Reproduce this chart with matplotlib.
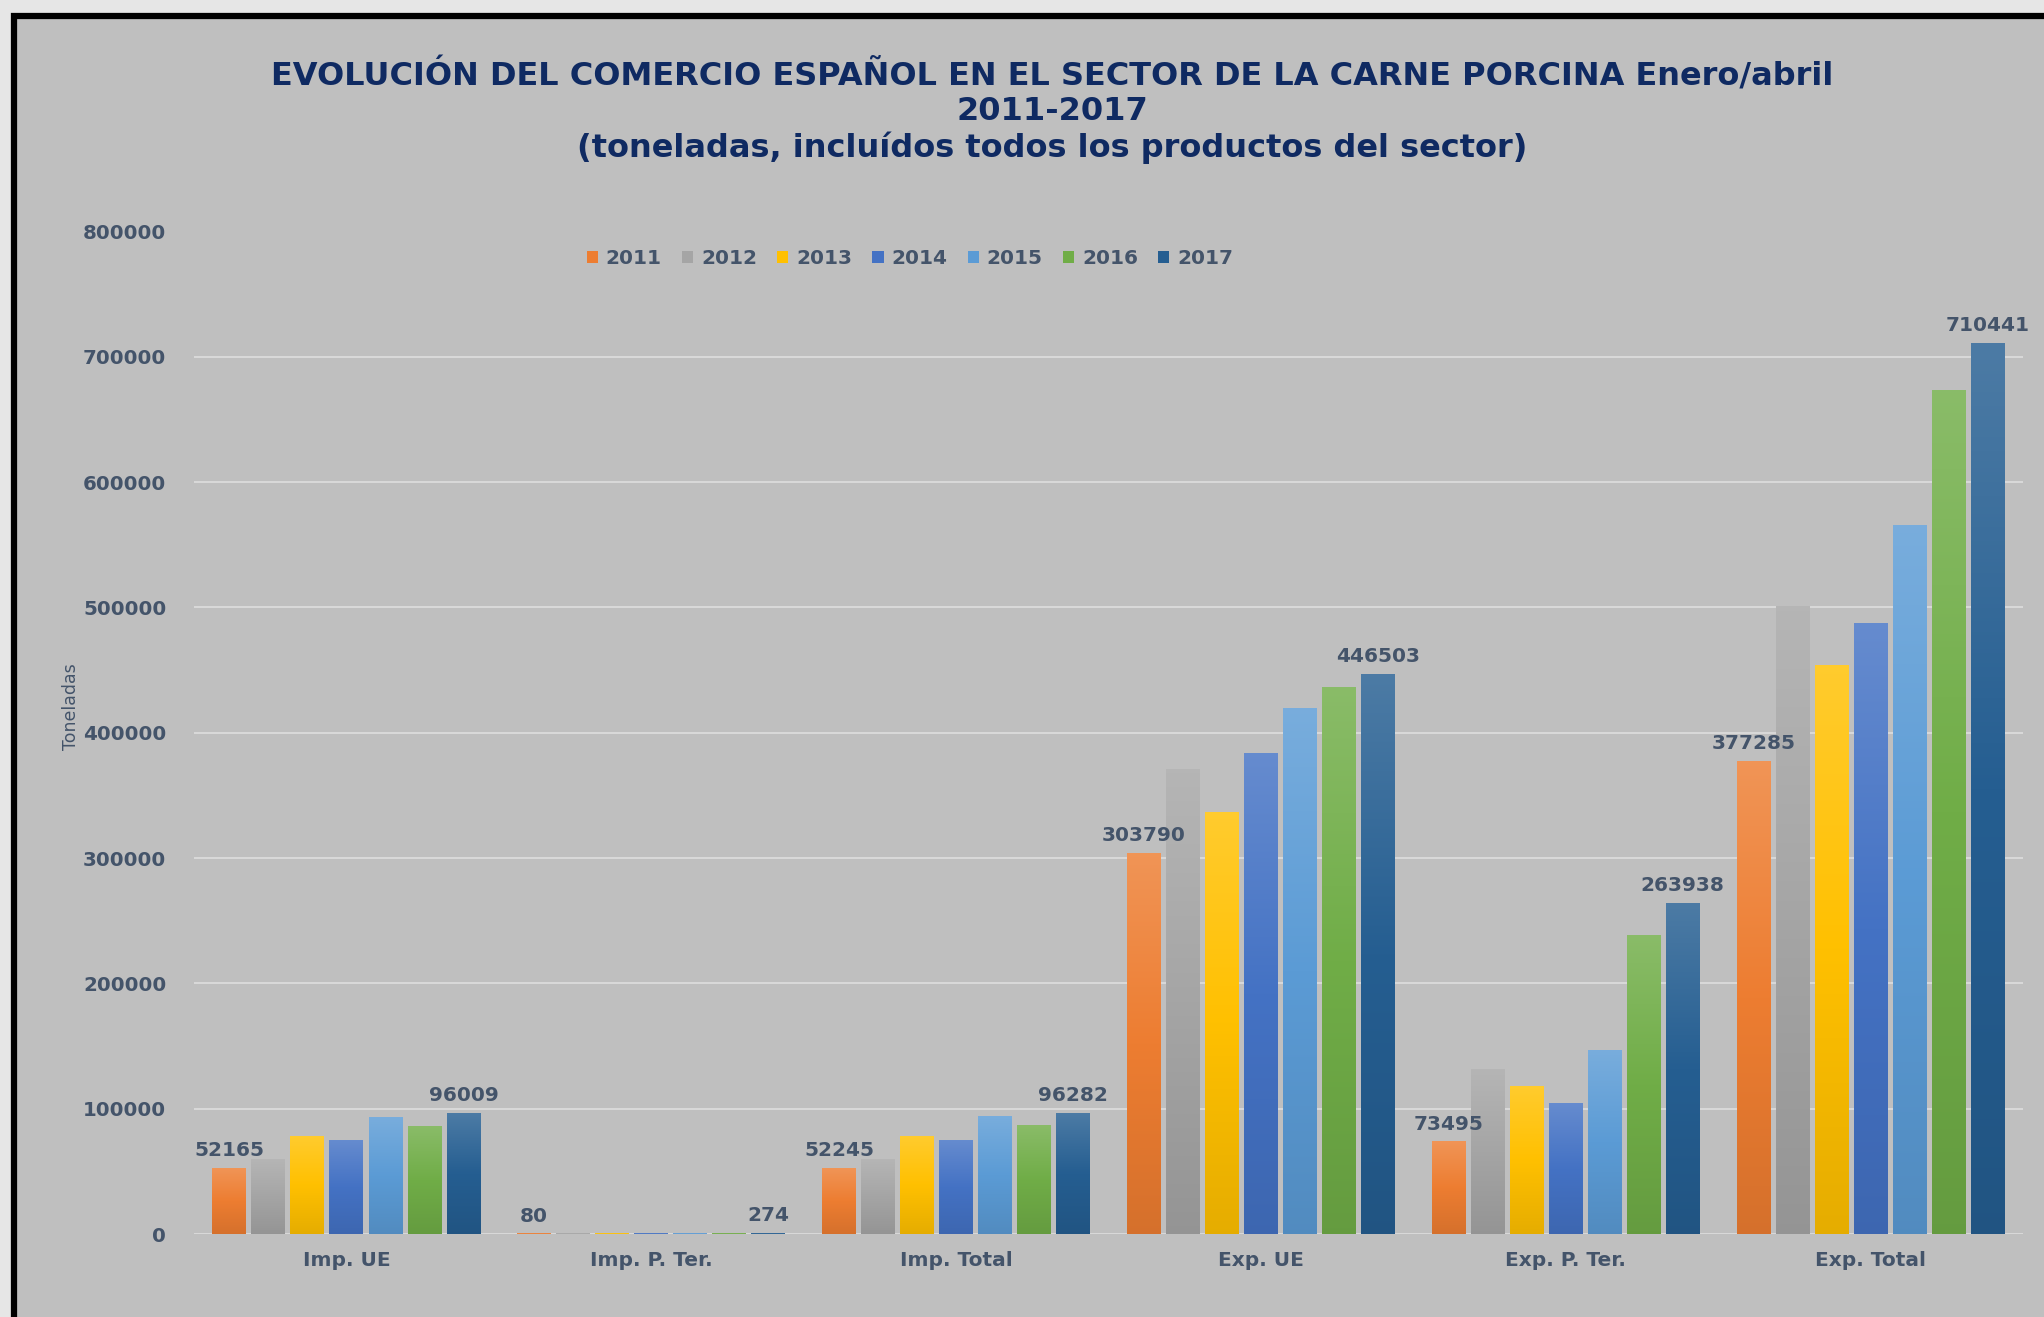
import numpy as np
import matplotlib
matplotlib.use('Agg')
import matplotlib.pyplot as plt
from matplotlib.colors import LinearSegmentedColormap, to_rgb
from matplotlib.patches import Rectangle

categories = ['Imp. UE', 'Imp. P. Ter.', 'Imp. Total', 'Exp. UE', 'Exp. P. Ter.', 'Exp. Total']
years = ['2011', '2012', '2013', '2014', '2015', '2016', '2017']

v2011 = [52165, 80, 52245, 303790, 73495, 377285]
v2012 = [59500, 120, 59600, 370900, 131100, 500800]
v2013 = [78000, 150, 78100, 336600, 117400, 454000]
v2014 = [74800, 200, 75000, 383400, 103800, 487300]
v2015 = [93300, 230, 93500, 419700, 146400, 565200]
v2016 = [86100, 250, 86300, 436400, 237900, 673200]
v2017 = [96009, 274, 96282, 446503, 263938, 710441]
series = [v2011, v2012, v2013, v2014, v2015, v2016, v2017]

colors = ['#ED7D31', '#A5A5A5', '#FFC000', '#4472C4', '#5B9BD5', '#70AD47', '#255E91']
labelled = [0, 6]   # only 2011 and 2017 carry data labels

txt_col = '#44546A'
W, H = 2044, 1317
fig = plt.figure(figsize=(W / 100, H / 100), dpi=100)
fig.patch.set_facecolor('#e6e6e6')

# chart frame: black border on top and left, gray fill
fig.patches.append(Rectangle((14 / W, -0.1), 1.2, 1.1 - 16 / H, transform=fig.transFigure,
                             facecolor='#bfbfbf', edgecolor='black', linewidth=4.5, zorder=-5))

ax = fig.add_axes([194 / W, 1 - 1234 / H, (2023 - 194) / W, (1234 - 231.5) / H])
ax.set_facecolor('none')
ax.set_zorder(2)

x = np.arange(len(categories))
slot = 0.128
bw = 0.111


def shade(c, f):
    r = np.array(to_rgb(c))
    return tuple(r + (1 - r) * f) if f > 0 else tuple(r * (1 + f))


for i, (vals, col) in enumerate(zip(series, colors)):
    bars = ax.bar(x + (i - 3) * slot, vals, bw, color=col, label=years[i], zorder=2)
    cmap = LinearSegmentedColormap.from_list('g', [shade(col, -0.1), col, shade(col, 0.18)])
    grad = np.linspace(0, 1, 256).reshape(-1, 1)
    for b in bars:
        ax.imshow(grad, extent=(b.get_x(), b.get_x() + b.get_width(), 0, b.get_height()),
                  origin='lower', aspect='auto', cmap=cmap, zorder=3)
    if i in labelled:
        ax.bar_label(bars, labels=[str(v) for v in vals], padding=6, fontsize=14.5,
                     fontweight='bold', color=txt_col, zorder=5)

ax.set_xlim(-0.5, len(categories) - 0.5)
ax.set_ylim(0, 800000)
ax.set_yticks(np.arange(0, 800001, 100000))
ax.set_yticklabels([str(v) for v in range(0, 800001, 100000)])
ax.set_xticks(x)
ax.set_xticklabels(categories)
ax.grid(axis='y', color='#d9d9d9', linewidth=1.4, zorder=1)
ax.set_axisbelow(True)
for s in ax.spines.values():
    s.set_visible(False)
ax.tick_params(axis='y', length=0, pad=20, labelsize=14.3, labelcolor=txt_col)
ax.tick_params(axis='x', length=0, pad=12, labelsize=14.5, labelcolor=txt_col)
for t in ax.get_xticklabels() + ax.get_yticklabels():
    t.set_fontweight('bold')

fig.legend(loc='center', bbox_to_anchor=(910 / W, 1 - 259 / H), ncol=7, frameon=False,
           handlelength=0.55, handleheight=0.55, columnspacing=1.0, handletextpad=0.4,
           prop={'weight': 'bold', 'size': 14.5}, labelcolor=txt_col)

fig.text(71 / W, 1 - 707 / H, 'Toneladas', rotation=90, ha='center', va='center',
         fontsize=12.5, color=txt_col)

fig.text(1052 / W, 1 - 111 / H,
         'EVOLUCIÓN DEL COMERCIO ESPAÑOL EN EL SECTOR DE LA CARNE PORCINA Enero/abril\n'
         '2011-2017\n(toneladas, incluídos todos los productos del sector)',
         ha='center', va='center', fontsize=23, fontweight='bold', color='#0F2A62',
         linespacing=1.17)

plt.savefig('out.png', dpi=100, facecolor=fig.get_facecolor())
